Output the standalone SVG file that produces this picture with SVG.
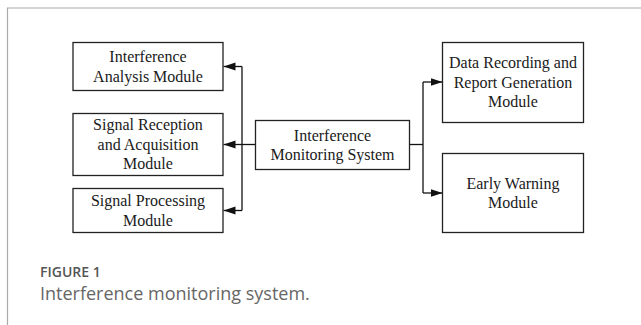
<svg xmlns="http://www.w3.org/2000/svg" width="641" height="325" viewBox="0 0 641 325">
<style>
.box{fill:#fff;stroke:#222;stroke-width:1.3}
.t{font-family:"Liberation Serif","Times New Roman",serif;font-size:16px;fill:#1a1a1a;text-anchor:middle}
.c{fill:none;stroke:#111;stroke-width:1.3}
.cap1{font-family:"Open Sans","Noto Sans",sans-serif;font-size:14px;font-weight:600;fill:#555}
.cap2{font-family:"Open Sans","Noto Sans",sans-serif;font-size:18px;fill:#666}
</style>
<defs>
<marker id="arr" markerUnits="userSpaceOnUse" markerWidth="14" markerHeight="10" refX="12" refY="4.5" orient="auto" viewBox="0 0 14 10">
<path d="M0,0.5 L12,4.5 L0,8.5 Z" fill="#111" stroke="none"/>
</marker>
</defs>
<rect width="641" height="325" fill="#fff"/>
<path d="M7.5,325 V8 H641" fill="none" stroke="#aaa" stroke-width="1.2"/>
<g id="connectors">
<path class="c" d="M255.5,144.5 H242"/>
<path class="c" d="M242,66.5 V210.5"/>
<path class="c" d="M242,66.5 H223.5" marker-end="url(#arr)"/>
<path class="c" d="M242,144.5 H223.5" marker-end="url(#arr)"/>
<path class="c" d="M242,210.5 H223.5" marker-end="url(#arr)"/>
<path class="c" d="M409.5,144.5 H423"/>
<path class="c" d="M423,82 V193"/>
<path class="c" d="M423,82 H442.5" marker-end="url(#arr)"/>
<path class="c" d="M423,193 H442.5" marker-end="url(#arr)"/>
</g>
<g id="analysis">
<rect class="box" x="73" y="42.5" width="150" height="48"/>
<text class="t" x="148" y="62">Interference</text>
<text class="t" x="148" y="82">Analysis Module</text>
</g>
<g id="reception">
<rect class="box" x="73" y="113.5" width="150" height="62"/>
<text class="t" x="148" y="130">Signal Reception</text>
<text class="t" x="148" y="150">and Acquisition</text>
<text class="t" x="148" y="169">Module</text>
</g>
<g id="processing">
<rect class="box" x="73" y="188.5" width="150" height="44"/>
<text class="t" x="148" y="206">Signal Processing</text>
<text class="t" x="148" y="226">Module</text>
</g>
<g id="system">
<rect class="box" x="255.5" y="120.5" width="154" height="49"/>
<text class="t" x="332.5" y="141">Interference</text>
<text class="t" x="332.5" y="160">Monitoring System</text>
</g>
<g id="recording">
<rect class="box" x="442.5" y="42.5" width="141" height="80"/>
<text class="t" x="513" y="68">Data Recording and</text>
<text class="t" x="513" y="88">Report Generation</text>
<text class="t" x="513" y="107">Module</text>
</g>
<g id="warning">
<rect class="box" x="442.5" y="153.5" width="141" height="79"/>
<text class="t" x="513" y="189">Early Warning</text>
<text class="t" x="513" y="208">Module</text>
</g>
<text class="cap1" x="40" y="276.5">FIGURE 1</text>
<text class="cap2" x="40" y="299.5">Interference monitoring system.</text>
</svg>
